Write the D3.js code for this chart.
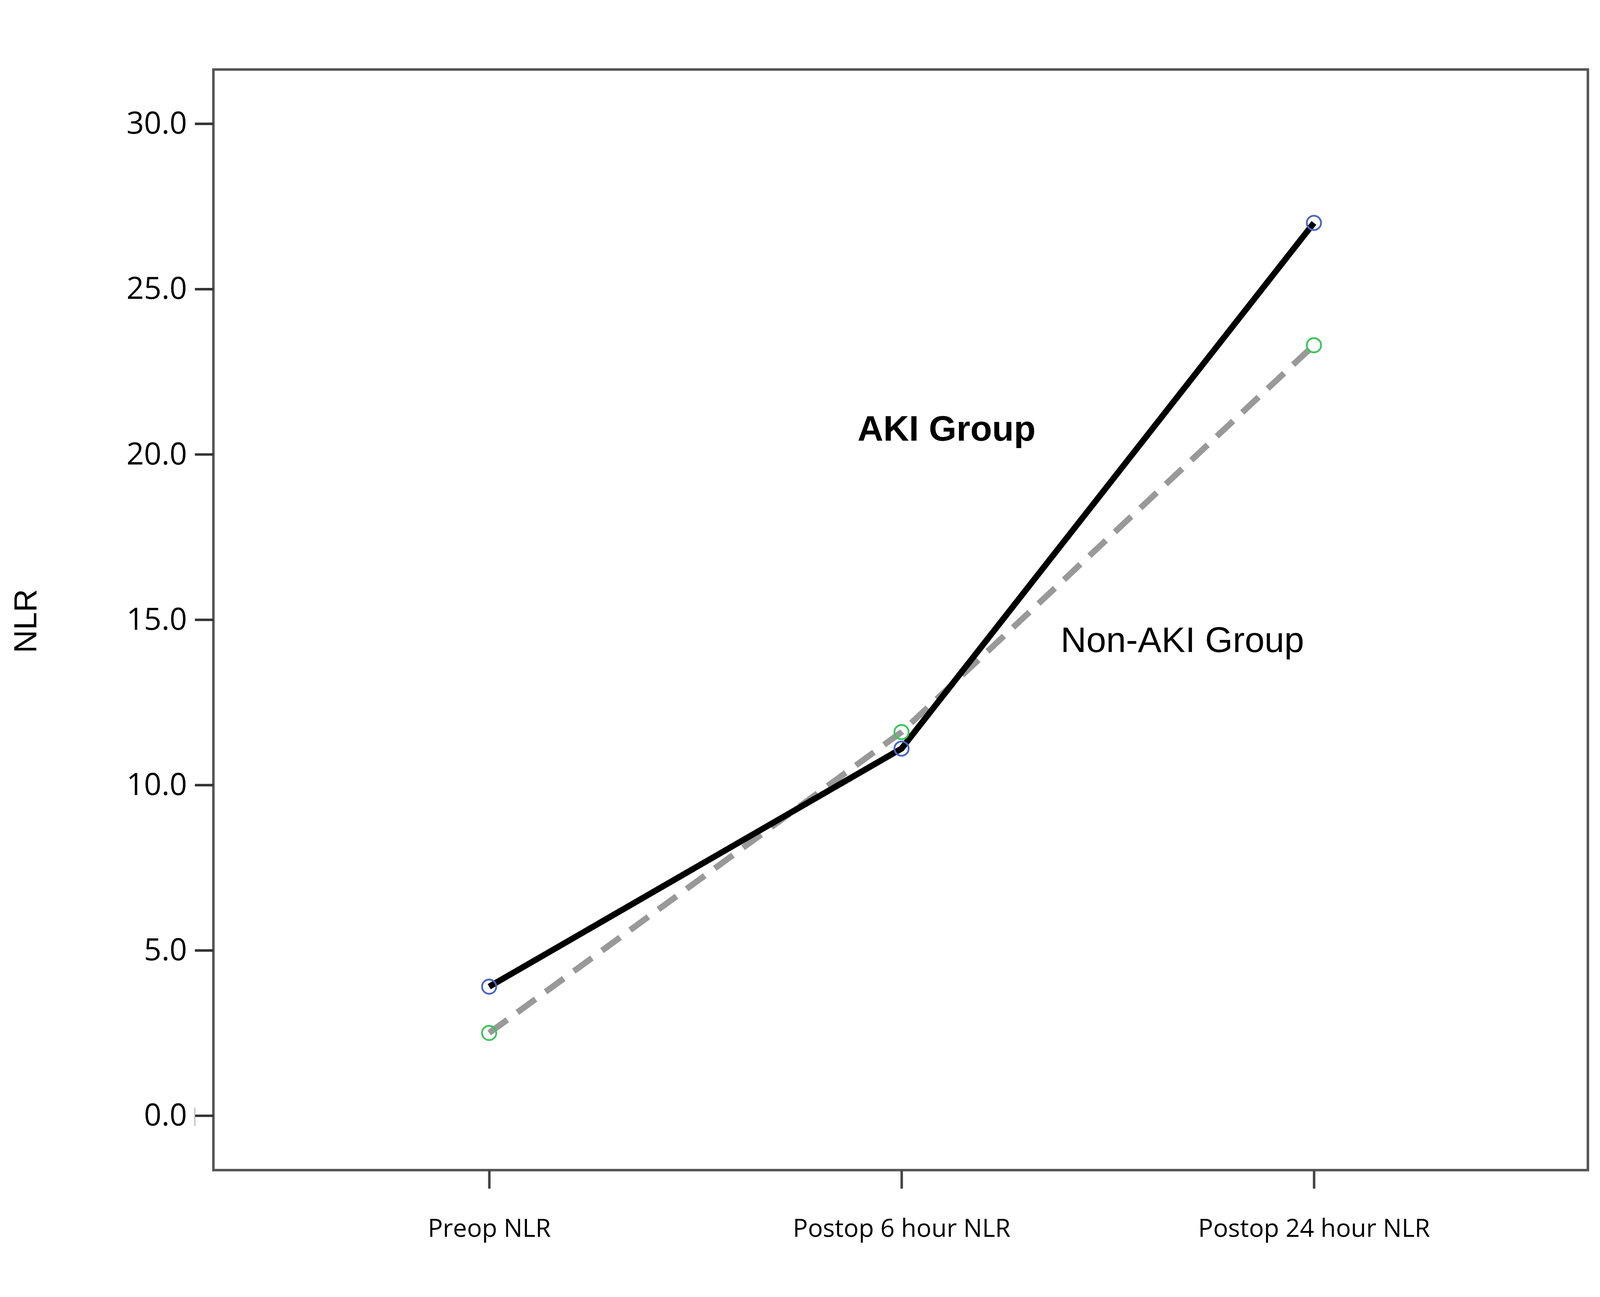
<!DOCTYPE html><html><head><meta charset="utf-8"><script src="https://cdn.jsdelivr.net/npm/d3@7"></script>
<style>html,body{margin:0;padding:0;background:#fff;overflow:hidden}svg{display:block;width:100vw;height:100vh}</style></head><body><svg id="c" viewBox="0 0 4491 3320" preserveAspectRatio="xMidYMid meet"></svg>
<script>
const categories=["Preop NLR","Postop 6 hour NLR","Postop 24 hour NLR"];
const akiValues=[3.9,11.1,27.0];
const nonAkiValues=[2.5,11.6,23.3];
const yTicks=[0,5,10,15,20,25,30];
const svg=d3.select("#c");
const L=599,R=4457,T=35,B=3124;
const x=d3.scalePoint().domain(categories).range([1373,3688]);
const y=d3.scaleLinear().domain([0,30]).range([2971,187]);
svg.append("rect").attr("x",L).attr("y",T).attr("width",R-L).attr("height",B-T).attr("fill","none").attr("stroke","#555").attr("stroke-width",7);
const ya=svg.append("g").attr("transform",`translate(${L},0)`).call(d3.axisLeft(y).tickValues(yTicks).tickFormat(d3.format(".1f")).tickSize(52).tickPadding(22));
ya.select(".domain").remove();
ya.selectAll("line").attr("stroke","#333").attr("stroke-width",7);
ya.selectAll("text").attr("font-family","Open Sans").attr("font-size",86).attr("fill","#000");
svg.append("line").attr("x1",547).attr("x2",547).attr("y1",2948).attr("y2",3000).attr("stroke","#999").attr("stroke-width",2);
const xa=svg.append("g").attr("transform",`translate(0,${B})`).call(d3.axisBottom(x).tickSize(52).tickPadding(85));
xa.select(".domain").remove();
xa.selectAll("line").attr("stroke","#444").attr("stroke-width",7);
xa.selectAll("text").attr("font-family","Open Sans").attr("font-size",70).attr("fill","#000");
const line=d3.line().x((d,i)=>x(categories[i])).y(d=>y(d));
svg.append("path").datum(nonAkiValues).attr("d",line).attr("fill","none").attr("stroke","#999").attr("stroke-width",17).attr("stroke-dasharray","63,35");
svg.append("path").datum(akiValues).attr("d",line).attr("fill","none").attr("stroke","#000").attr("stroke-width",17);
svg.selectAll(".na").data(nonAkiValues).enter().append("circle").attr("cx",(d,i)=>x(categories[i])).attr("cy",d=>y(d)).attr("r",20).attr("fill","none").attr("stroke","#3cc45a").attr("stroke-width",5);
svg.selectAll(".ak").data(akiValues).enter().append("circle").attr("cx",(d,i)=>x(categories[i])).attr("cy",d=>y(d)).attr("r",20).attr("fill","none").attr("stroke","#4a64c8").attr("stroke-width",5);
svg.append("text").attr("x",2407).attr("y",1077).attr("font-family","Liberation Sans").attr("font-weight","bold").attr("font-size",100).text("AKI Group");
svg.append("text").attr("x",2977).attr("y",1670).attr("font-family","Liberation Sans").attr("font-size",100).text("Non-AKI Group");
svg.append("text").attr("transform","translate(102,1583) rotate(-90)").attr("text-anchor","middle").attr("font-family","Liberation Sans").attr("font-size",90).text("NLR");
</script></body></html>
